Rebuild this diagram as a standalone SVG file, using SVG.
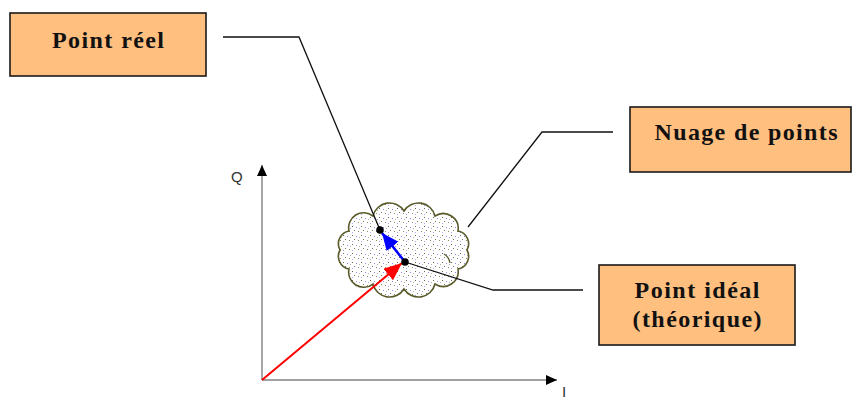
<svg xmlns="http://www.w3.org/2000/svg" width="854" height="399" viewBox="0 0 854 399">
<style>
.box{fill:#FFBF7F;stroke:#1a1a1a;stroke-width:1.6}
.lbl{font-family:"Liberation Serif","Times New Roman",serif;font-weight:bold;font-size:24px;fill:#111}
.lead{fill:none;stroke:#111;stroke-width:1.3}
.axis{fill:none;stroke:#808080;stroke-width:1.4}
.ax{font-family:"Liberation Sans",Arial,sans-serif;font-size:15px;fill:#333}
</style>
<defs>
<pattern id="speck" width="9" height="9" patternUnits="userSpaceOnUse">
<rect width="9" height="9" fill="#ffffff"/>
<rect x="1" y="1" width="1" height="1" fill="#6a6a4a"/>
<rect x="5" y="2" width="1" height="1" fill="#8c8cff"/>
<rect x="3" y="5" width="1" height="1" fill="#7a7a5a"/>
<rect x="7" y="6" width="1" height="1" fill="#8a8a6a"/>
<rect x="1" y="7" width="1" height="1" fill="#a8a8ff"/>
<rect x="8" y="3" width="1" height="1" fill="#b0b0b0"/>
</pattern>
<marker id="axhead" markerUnits="userSpaceOnUse" markerWidth="12" markerHeight="12" refX="11" refY="5" orient="auto">
<path d="M0,0 L11,5 L0,10 Z" fill="#000"/>
</marker>
<marker id="redhead" markerUnits="userSpaceOnUse" markerWidth="20" markerHeight="16" refX="18" refY="7.5" orient="auto">
<path d="M0,0 L18,7.5 L0,15 Z" fill="#ff0000"/>
</marker>
<marker id="bluehead" markerUnits="userSpaceOnUse" markerWidth="20" markerHeight="16" refX="17" refY="7.5" orient="auto">
<path d="M0,0 L17,7.5 L0,15 Z" fill="#0000ff"/>
</marker>
</defs>

<g id="cloud">
<path d="M467,250 A13,13 0 0 1 458,269 A15,15 0 0 1 435,284 A17,17 0 0 1 404,289 A17,17 0 0 1 373,284 A15,15 0 0 1 349,269 A13,13 0 0 1 340,250 A13,13 0 0 1 349,231 A15,15 0 0 1 373,216 A17,17 0 0 1 404,211 A17,17 0 0 1 435,216 A15,15 0 0 1 458,231 A13,13 0 0 1 467,250 Z" fill="url(#speck)" stroke="#5a5a2a" stroke-width="1.6"/>
<path d="M444,254 Q449,257 450,263" fill="none" stroke="#5a5a2a" stroke-width="1.3"/>
</g>

<g id="connectors">
<line class="axis" x1="262" y1="380" x2="262" y2="165" marker-end="url(#axhead)"/>
<line class="axis" x1="262" y1="380" x2="557" y2="380" marker-end="url(#axhead)"/>
<line x1="262" y1="380" x2="402" y2="263" stroke="#ff0000" stroke-width="2" marker-end="url(#redhead)"/>
<line x1="405" y1="262" x2="382" y2="233" stroke="#0000ff" stroke-width="2.5" marker-end="url(#bluehead)"/>
<polyline class="lead" points="223,37 299,37 380,230"/>
<polyline class="lead" points="613,132 542,132 468,227"/>
<polyline class="lead" points="405,262 493,290 583,290"/>
</g>

<g id="points">
<circle cx="380" cy="230" r="3.8" fill="#000"/>
<circle cx="405" cy="262" r="3.8" fill="#000"/>
</g>

<g id="axis-labels">
<text class="ax" x="231" y="182">Q</text>
<text class="ax" x="562" y="397">I</text>
</g>

<g id="point-reel">
<rect class="box" x="10" y="13" width="196" height="63"/>
<text class="lbl" x="108" y="48" text-anchor="middle" textLength="112" lengthAdjust="spacing">Point réel</text>
</g>

<g id="nuage">
<rect class="box" x="630" y="107" width="221" height="65"/>
<text class="lbl" x="746" y="140" text-anchor="middle" textLength="183" lengthAdjust="spacing">Nuage de points</text>
</g>

<g id="point-ideal">
<rect class="box" x="599" y="265" width="196" height="80"/>
<text class="lbl" x="697" y="298" text-anchor="middle" textLength="125" lengthAdjust="spacing">Point idéal</text>
<text class="lbl" x="697" y="327" text-anchor="middle" textLength="129" lengthAdjust="spacing">(théorique)</text>
</g>
</svg>
